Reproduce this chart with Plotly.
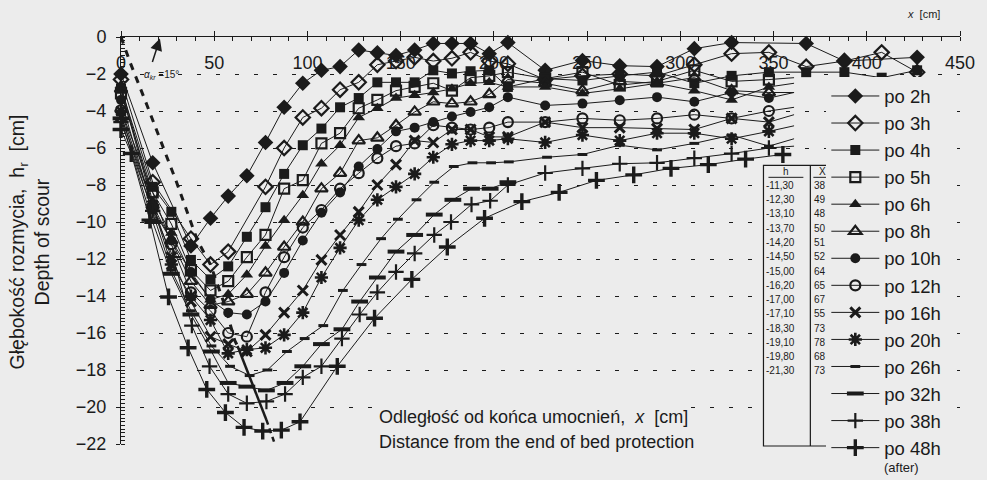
import plotly.graph_objects as go

# Scour profiles downstream of the bed protection, measured after successive run times.
# Distance x [cm] from the end of the protection, scour depth h_r [cm] (negative = below bed).
LINE_END = 361  # profiles are drawn on to this distance without a marker

x_profiles = [0, 17, 27, 37.5, 48, 57.5, 67.5, 77.5, 87.5, 97.5, 107.5, 117.5, 127.5, 137.5,
              147.5, 157.5, 167.5, 177.5, 187.5, 197.5, 207.5, 227.5, 247.5, 267.5, 287.5,
              307.5, 327.5, 347.5]

x_2h = [0, 17, 37.5, 48, 57.5, 67.5, 77.5, 87.5, 97.5, 107.5, 117.5, 127.5, 137.5, 147.5, 157.5,
        167.5, 177.5, 187.5, 197.5, 207.5, 227.5, 247.5, 267.5, 287.5, 307.5, 327.5, 367.5, 388, 427]
h_2h = [-2.0, -6.8, -11.3, -9.8, -8.6, -7.5, -5.7, -3.8, -2.5, -1.8, -1.6, -0.7, -0.85, -1.0, -0.7,
        -0.35, -0.35, -0.35, -0.9, -0.3, -1.8, -1.27, -1.55, -1.6, -0.63, -0.3, -0.35, -1.3, -1.1]

x_3h = [0, 17, 37.5, 48, 57.5, 77.5, 87.5, 97.5, 107.5, 117.5, 127.5, 137.5, 147.5, 157.5, 167.5,
        177.5, 187.5, 197.5, 207.5, 227.5, 247.5, 267.5, 287.5, 307.5, 327.5, 347.5, 367.5, 388, 408, 427]
h_3h = [-2.3, -7.85, -10.9, -12.3, -11.6, -8.1, -6.0, -4.35, -3.85, -2.85, -2.45, -1.5, -1.3, -1.1,
        -1.3, -1.15, -0.83, -1.3, -1.45, -2.3, -2.1, -2.0, -2.1, -1.5, -0.9, -0.83, -1.6, -1.3, -0.83, -1.9]

x_4h = x_profiles + [367.5, 388, 408, 427]
h_4h = [-2.8, -8.1, -9.45, -12.05, -13.1, -12.4, -10.8, -9.2, -7.4, -5.85, -4.95, -3.8, -3.3, -2.45,
        -2.45, -2.45, -1.8, -1.97, -1.85, -1.8, -2.7, -2.25, -2.35, -2.1, -1.9, -2.5, -2.1, -1.9,
        -1.9, -1.9, -2.2, -1.8]

x_mid = x_profiles + [LINE_END]
h_5h = [-3.05, -8.4, -10.1, -12.6, -13.7, -13.2, -11.9, -10.7, -8.2, -7.74, -5.75, -5.2, -3.85, -3.4,
        -2.9, -2.7, -2.5, -2.9, -2.2, -2.1, -1.9, -2.25, -1.9, -2.6, -2.4, -1.8, -2.4, -2.3, -2.2]
h_6h = [-2.6, -8.9, -10.6, -12.8, -14.2, -13.9, -12.85, -11.3, -9.9, -8.55, -6.85, -5.85, -4.35, -3.85,
        -3.3, -3.15, -3.0, -2.8, -2.5, -2.45, -2.7, -2.7, -3.05, -2.8, -2.5, -2.9, -3.4, -2.7, -2.5]
h_8h = [-2.8, -9.1, -11.0, -13.2, -14.5, -14.3, -13.9, -12.75, -11.35, -10.0, -8.2, -7.36, -5.6, -5.45,
        -4.77, -4.05, -3.5, -3.6, -3.5, -3.1, -2.3, -2.5, -2.9, -2.4, -2.5, -2.2, -2.9, -3.0, -3.0]
h_10h = [-3.4, -9.3, -11.0, -12.7, -14.2, -14.9, -15.0, -14.3, -12.75, -11.0, -9.5, -8.4, -7.0, -6.05,
         -5.1, -4.9, -4.6, -4.3, -4.05, -3.8, -3.25, -3.7, -3.6, -3.42, -3.25, -3.5, -3.0, -3.3, -3.0]
h_12h = [-3.96, -8.4, -11.2, -13.8, -14.8, -16.0, -16.2, -13.8, -11.9, -10.3, -9.35, -8.2, -7.36, -6.55,
         -5.9, -5.75, -4.77, -4.9, -5.0, -4.9, -4.6, -4.6, -4.4, -4.5, -4.4, -4.2, -4.4, -4.0, -3.8]
h_16h = [-4.3, -9.1, -11.9, -14.3, -16.2, -16.6, -17.0, -16.1, -14.9, -13.7, -12.05, -10.7, -9.45, -8.0,
         -6.9, -5.6, -5.7, -5.0, -5.0, -5.4, -5.4, -4.6, -4.9, -4.9, -4.95, -5.0, -4.4, -4.6, -4.2]
h_20h = [-4.0, -9.1, -12.3, -14.0, -15.3, -17.1, -16.9, -16.8, -16.1, -14.9, -13.0, -11.4, -9.9, -8.8,
         -8.1, -7.4, -6.5, -5.8, -5.6, -5.6, -5.5, -5.7, -5.3, -5.6, -5.2, -5.2, -5.5, -5.1, -4.8]

x_26h = [0, 17, 27, 37.5, 48.5, 58.5, 69, 78.5, 89, 98.5, 108.5, 119, 129, 139.5, 148.5, 158.5, 168,
         178.5, 188.5, 198.5, 208, 228.5, 247.5, 267.5, 287.5, 307.5, 327.5, 347.5, LINE_END]
h_26h = [-4.2, -9.5, -12.6, -14.8, -16.7, -17.8, -18.3, -18.0, -17.0, -16.3, -15.6, -13.7, -12.3, -10.9,
         -9.85, -8.8, -7.85, -7.0, -6.8, -6.8, -6.75, -6.5, -6.35, -5.85, -6.1, -5.75, -5.3, -5.9, -5.5]

x_32h = [0, 17, 27, 37.5, 48.5, 57.5, 67.5, 78, 88, 97.5, 107.5, 118.5, 128, 137.5, 147.5, 157.5, 168,
         178, 188, 198, 207.5]
h_32h = [-4.4, -10.0, -12.8, -15.0, -17.0, -18.7, -18.9, -19.1, -18.7, -17.8, -16.6, -15.8, -14.3, -13.0,
         -11.6, -10.7, -9.6, -8.8, -8.2, -8.2, -7.85]

x_38h = [0, 17, 28, 38, 47.5, 57.5, 67.5, 78, 88, 97.5, 107.5, 118.5, 128, 137.5, 147.5, 157.5, 168,
         177, 188, 198, 207.5, 227.5, 247.5, 267.5, 287.5, 307.5, 327.5, 347.5, LINE_END]
h_38h = [-4.6, -9.4, -11.9, -15.6, -17.8, -19.3, -19.8, -19.7, -19.3, -18.4, -17.8, -16.3, -15.0, -13.8,
         -12.7, -11.7, -10.7, -10.0, -9.05, -8.85, -8.0, -7.35, -7.1, -6.85, -6.8, -6.55, -6.3, -6.0, -5.9]

x_48h = [0, 5.5, 15.5, 25.5, 36, 46, 56, 66, 76, 86, 96, 116, 136, 156, 175, 195, 215, 235, 255, 275,
         295, 315, 335, 355]
h_48h = [-5.0, -6.3, -9.9, -14.05, -16.8, -19.05, -20.3, -21.1, -21.3, -21.25, -20.8, -17.8, -15.2, -13.1,
         -11.35, -9.8, -8.9, -8.4, -7.75, -7.45, -7.1, -6.9, -6.6, -6.35]

# Maximum scour depth h and its distance X for every run (values of the inset table)
run_labels = ["po 2h", "po 3h", "po 4h", "po 5h", "po 6h", "po 8h", "po 10h", "po 12h",
              "po 16h", "po 20h", "po 26h", "po 32h", "po 38h", "po 48h"]
max_depth = [-11.30, -12.30, -13.10, -13.70, -14.20, -14.50, -15.00, -16.20, -17.00, -17.10,
             -18.30, -19.10, -19.80, -21.30]
max_depth_x = [38, 49, 48, 50, 51, 52, 64, 65, 67, 55, 73, 78, 68, 73]

# Envelope of the scour-hole slope (critical angle)
slope_x = [0, 5, 14, 22, 30, 36, 41, 48, 56, 61, 62.5]
slope_y = [0, -1.4, -3.7, -5.8, -7.9, -9.6, -11.0, -12.3, -14.6, -16.4, -16.7]
slope_solid_x = [62.5, 78]
slope_solid_y = [-16.7, -20.7]
slope_tail_x = [78, 82.5]
slope_tail_y = [-20.7, -22]

profiles = [
    (x_2h, h_2h), (x_3h, h_3h), (x_4h, h_4h), (x_mid, h_5h), (x_mid, h_6h), (x_mid, h_8h),
    (x_mid, h_10h), (x_mid, h_12h), (x_mid, h_16h), (x_mid, h_20h), (x_26h, h_26h),
    (x_32h, h_32h), (x_38h, h_38h), (x_48h, h_48h),
]

INK = "#1b1b1b"
BG = "#ececec"
FONT = "Liberation Sans, Arial, sans-serif"

marker_styles = [
    dict(symbol="diamond", size=12),
    dict(symbol="diamond-open", size=11, line=dict(width=2.2, color=INK)),
    dict(symbol="square", size=10),
    dict(symbol="square-open", size=10, line=dict(width=2.2, color=INK)),
    dict(symbol="triangle-up", size=11),
    dict(symbol="triangle-up-open", size=11, line=dict(width=2.2, color=INK)),
    dict(symbol="circle", size=10),
    dict(symbol="circle-open", size=10, line=dict(width=2.2, color=INK)),
    dict(symbol="x-thin-open", size=10, line=dict(width=3, color=INK)),
    dict(symbol="asterisk-open", size=11, line=dict(width=2.6, color=INK)),
    dict(symbol="line-ew-open", size=7, line=dict(width=3, color=INK)),
    dict(symbol="line-ew-open", size=12, line=dict(width=4, color=INK)),
    dict(symbol="cross-thin-open", size=11, line=dict(width=2.2, color=INK)),
    dict(symbol="cross-thin-open", size=12, line=dict(width=3.4, color=INK)),
]

# plot-area frame in page pixels, used to place layout items
PL, PR, PT, PB = 121, 962, 36.5, 444


def px_x(px):
    return (px - PL) / (PR - PL)


def px_y(py):
    return (PB - py) / (PB - PT)


fig = go.Figure()

for (xs, hs), name, style in zip(profiles, run_labels, marker_styles):
    mk = dict(color=INK, **style)
    if "line" not in mk:
        mk["line"] = dict(width=0)
    if xs[-1] == LINE_END:
        fig.add_trace(go.Scatter(x=xs[-2:], y=hs[-2:], mode="lines",
                                 line=dict(color=INK, width=1), showlegend=False,
                                 hoverinfo="skip", cliponaxis=False))
        xs, hs = xs[:-1], hs[:-1]
    fig.add_trace(go.Scatter(x=xs, y=hs, mode="lines+markers", name=name,
                             line=dict(color=INK, width=1), marker=mk, cliponaxis=False))

fig.add_trace(go.Scatter(x=slope_x, y=slope_y, mode="lines", showlegend=False,
                         line=dict(color=INK, width=3, dash="7px,7px"), hoverinfo="skip",
                         cliponaxis=False))
fig.add_trace(go.Scatter(x=slope_solid_x, y=slope_solid_y, mode="lines", showlegend=False,
                         line=dict(color=INK, width=2.5), hoverinfo="skip"))
fig.add_trace(go.Scatter(x=slope_tail_x, y=slope_tail_y, mode="lines", showlegend=False,
                         line=dict(color=INK, width=2.5, dash="5px,4px"), hoverinfo="skip",
                         cliponaxis=False))


def label(text, px, py, size, xanchor="center", **kw):
    return dict(text=text, x=px_x(px), y=px_y(py), xref="paper", yref="paper",
                xanchor=xanchor, yanchor="middle", showarrow=False,
                font=dict(size=size, color=INK, family=kw.pop("family", FONT)), **kw)


annotations = [
    label("Głębokość rozmycia,  h<sub>r</sub>  [cm]<br>Depth of scour", 29, 242, 19.5,
          textangle=-90),
    label("Odległość od końca umocnień,  <i>x</i>  [cm]", 379, 417, 18, xanchor="left",
          bgcolor=BG, borderpad=0),
    label("Distance from the end of bed protection", 379, 442, 18, xanchor="left",
          bgcolor=BG, borderpad=0),
    label("<i>x</i>  [cm]", 925, 13, 11),
    label("(after)", 903, 468, 13),
    label("<i>α<sub>kr</sub></i> =15°", 142, 75, 10, xanchor="left"),
    dict(text="", x=px_x(160), y=px_y(38), xref="paper", yref="paper", showarrow=True,
         ax=-8, ay=25, arrowhead=2, arrowsize=1.6, arrowwidth=1.5, arrowcolor=INK),
]

# inset table of maximum scour depths
TAB_L, TAB_M, TAB_R, TAB_T, TAB_B = 765, 812, 834, 165, 446
ROW0, ROW_STEP = 185, 14.3
shapes = [
    dict(type="rect", xref="paper", yref="paper", x0=px_x(TAB_L), x1=px_x(TAB_R),
         y0=px_y(TAB_B), y1=px_y(TAB_T), line=dict(color=INK, width=1.2), fillcolor=BG,
         layer="above"),
    dict(type="line", xref="paper", yref="paper", x0=px_x(TAB_M), x1=px_x(TAB_M),
         y0=px_y(TAB_B), y1=px_y(TAB_T), line=dict(color=INK, width=1.2), layer="above"),
    dict(type="line", xref="paper", yref="paper", x0=px_x(770), x1=px_x(805),
         y0=px_y(177), y1=px_y(177), line=dict(color=INK, width=1), layer="above"),
    dict(type="line", xref="paper", yref="paper", x0=px_x(815), x1=px_x(832),
         y0=px_y(177), y1=px_y(177), line=dict(color=INK, width=1), layer="above"),
]
TAB_FONT = "Liberation Sans Narrow, Liberation Sans, Arial"
annotations.append(label("h", 788, 171, 10, family=TAB_FONT, borderpad=0))
annotations.append(label("X", 824, 171, 10, family=TAB_FONT, borderpad=0))
for i, (h, xm) in enumerate(zip(max_depth, max_depth_x)):
    row_y = ROW0 + i * ROW_STEP
    annotations.append(label(f"{h:.2f}".replace(".", ","), 767, row_y, 10, xanchor="left",
                             family=TAB_FONT, borderpad=0))
    annotations.append(label(str(xm), 822, row_y, 10, family=TAB_FONT, borderpad=0))

fig.update_layout(
    width=987, height=480,
    margin=dict(l=PL, r=987 - PR, t=PT, b=480 - PB, pad=0),
    paper_bgcolor=BG, plot_bgcolor=BG,
    font=dict(family=FONT, color=INK),
    showlegend=True,
    legend=dict(x=px_x(828), y=px_y(77), xanchor="left", yanchor="top",
                font=dict(size=18.5, color=INK, family=FONT), bgcolor=BG, borderwidth=0,
                itemwidth=48, tracegroupgap=0),
    xaxis=dict(range=[0, 450], side="top", tickmode="array", tickvals=list(range(0, 451, 50)),
               ticklabelposition="inside", ticklabeloverflow="allow",
               ticks="outside", ticklen=5, tickcolor=INK,
               minor=dict(dtick=10, ticks="inside", ticklen=4, tickcolor=INK),
               showline=True, linecolor=INK, linewidth=1, showgrid=False, zeroline=False,
               tickfont=dict(size=18, color=INK), ticklabelstandoff=20),
    yaxis=dict(range=[-22, 0], tickmode="array", tickvals=list(range(0, -23, -2)),
               ticks="outside", ticklen=4, tickcolor=INK, ticklabeloverflow="allow",
               minor=dict(dtick=0.2, ticks="inside", ticklen=4, tickcolor=INK, showgrid=False),
               showline=True, linecolor=INK, linewidth=1, showgrid=True, gridcolor=INK,
               gridwidth=1, griddash="4px,15px", zeroline=False,
               tickfont=dict(size=18, color=INK), ticklabelstandoff=6),
    annotations=annotations,
    shapes=shapes,
)

fig.write_html("out.html")
